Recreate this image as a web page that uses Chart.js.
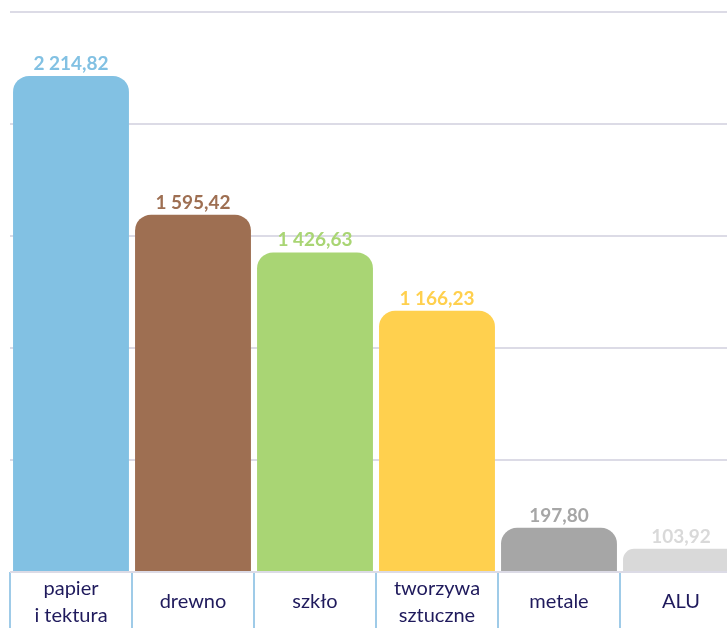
<!DOCTYPE html>
<html>
<head>
<meta charset="utf-8">
<script src="https://cdn.jsdelivr.net/npm/chart.js@4"></script>
<style>
  html, body { margin: 0; padding: 0; background: #ffffff; overflow: hidden; }
  #wrap { position: absolute; left: 0; top: 0; width: 742px; height: 628px; }
</style>
</head>
<body>
<div id="wrap"><canvas id="c" width="742" height="628"></canvas></div>
<script>
const categories = [["papier", "i tektura"], "drewno", "szkło", ["tworzywa", "sztuczne"], "metale", "ALU"];
const values = [2214.82, 1595.42, 1426.63, 1166.23, 197.80, 103.92];
const barColors = ["#82c1e3", "#9e6f52", "#a9d574", "#ffd04e", "#a6a6a6", "#d9d9d9"];
const yTicks = [0, 500, 1000, 1500, 2000, 2500];

function fmt(v) {
  const parts = v.toFixed(2).split(".");
  const intPart = parts[0].replace(/\B(?=(\d{3})+(?!\d))/g, " ");
  return intPart + "," + parts[1];
}

const valueLabels = {
  id: "valueLabels",
  afterDatasetsDraw(chart) {
    const ctx = chart.ctx;
    const meta = chart.getDatasetMeta(0);
    ctx.save();
    ctx.font = "bold 19px Lato, 'Open Sans', sans-serif";
    ctx.textAlign = "center";
    ctx.textBaseline = "alphabetic";
    meta.data.forEach((bar, i) => {
      ctx.fillStyle = barColors[i];
      ctx.fillText(fmt(values[i]), bar.x, bar.y - 6);
    });
    ctx.restore();
  }
};

const categoryLabels = {
  id: "categoryLabels",
  afterDraw(chart) {
    const ctx = chart.ctx;
    const xs = chart.scales.x;
    const top = chart.chartArea.bottom;
    const mid = top + 30;
    const lh = 27;
    ctx.save();
    ctx.font = "20px Lato, 'Open Sans', sans-serif";
    ctx.fillStyle = "#1f1a5c";
    ctx.textAlign = "center";
    ctx.textBaseline = "middle";
    categories.forEach((c, i) => {
      const lines = Array.isArray(c) ? c : [c];
      const x = xs.getPixelForValue(i);
      const y0 = mid - (lines.length - 1) * lh / 2;
      lines.forEach((t, j) => ctx.fillText(t, x, y0 + j * lh));
    });
    ctx.restore();
  }
};

new Chart(document.getElementById("c"), {
  type: "bar",
  data: {
    labels: categories,
    datasets: [{
      data: values,
      backgroundColor: barColors,
      borderWidth: 0,
      borderRadius: { topLeft: 16, topRight: 16, bottomLeft: 0, bottomRight: 0 },
      borderSkipped: false,
      categoryPercentage: 1.0,
      barPercentage: 0.95
    }]
  },
  options: {
    responsive: false,
    animation: false,
    layout: { padding: { left: 10, right: 0, top: 12, bottom: 0 } },
    plugins: { legend: { display: false }, tooltip: { enabled: false } },
    scales: {
      x: {
        grid: {
          display: true,
          drawOnChartArea: false,
          drawTicks: true,
          tickLength: 56,
          color: "#9fcbe8",
          lineWidth: 2,
          offset: true
        },
        border: { display: false },
        ticks: {
          color: "rgba(0,0,0,0)",
          font: { size: 1 },
          padding: -56,
          maxRotation: 0,
          autoSkip: false
        },
        afterFit(scale) { scale.height = 56; }
      },
      y: {
        min: 0,
        max: 2500,
        afterBuildTicks(scale) { scale.ticks = yTicks.map(v => ({ value: v })); },
        grid: { color: "#dcdbe6", lineWidth: 2, drawTicks: false },
        border: { display: false },
        ticks: { display: false },
        afterFit(scale) { scale.width = 0; }
      }
    }
  },
  plugins: [valueLabels, categoryLabels]
});
</script>
</body>
</html>
